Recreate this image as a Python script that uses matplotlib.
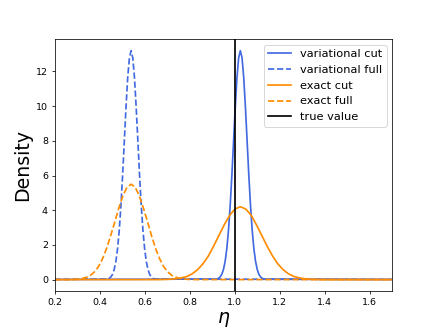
import matplotlib
matplotlib.use("Agg")
import matplotlib.pyplot as plt

# curve points (eta, density)
var_cut_x = [0.0, 0.92, 0.9275, 0.935, 0.9425, 0.95, 0.9575, 0.965, 0.9725, 0.98,
             0.9875, 0.995, 1.0025, 1.01, 1.0175, 1.025, 1.0325, 1.04, 1.0475,
             1.055, 1.0625, 1.07, 1.0775, 1.085, 1.0925, 1.1, 1.1075, 1.115,
             1.1225, 1.13, 2.0]
var_cut_y = [0.0, 0.03, 0.07, 0.15, 0.30, 0.58, 1.05, 1.79, 2.86, 4.29,
             6.04, 8.01, 9.96, 11.65, 12.79, 13.2, 12.79, 11.65, 9.96,
             8.01, 6.04, 4.29, 2.86, 1.79, 1.05, 0.58, 0.30, 0.15,
             0.07, 0.03, 0.0]

var_full_x = [0.0, 0.435, 0.4425, 0.45, 0.4575, 0.465, 0.4725, 0.48, 0.4875, 0.495,
              0.5025, 0.51, 0.5175, 0.525, 0.5325, 0.54, 0.5475, 0.555, 0.5625,
              0.57, 0.5775, 0.585, 0.5925, 0.6, 0.6075, 0.615, 0.6225, 0.63,
              0.6375, 0.645, 2.0]
var_full_y = [0.0, 0.03, 0.07, 0.15, 0.30, 0.58, 1.05, 1.79, 2.86, 4.29,
              6.04, 8.01, 9.96, 11.65, 12.79, 13.2, 12.79, 11.65, 9.96,
              8.01, 6.04, 4.29, 2.86, 1.79, 1.05, 0.58, 0.30, 0.15,
              0.07, 0.03, 0.0]

exact_cut_x = [0.0, 0.66, 0.693, 0.716, 0.74, 0.764, 0.788, 0.811, 0.835, 0.859,
               0.883, 0.906, 0.93, 0.954, 0.978, 1.001, 1.025, 1.049, 1.073,
               1.096, 1.12, 1.144, 1.168, 1.191, 1.215, 1.239, 1.263, 1.286,
               1.31, 1.334, 1.358, 1.39, 2.0]
exact_cut_y = [0.0, 0.0, 0.01, 0.02, 0.05, 0.10, 0.18, 0.33, 0.57, 0.91,
               1.36, 1.92, 2.55, 3.17, 3.71, 4.07, 4.2, 4.07, 3.71,
               3.17, 2.55, 1.92, 1.36, 0.91, 0.57, 0.33, 0.18, 0.10,
               0.05, 0.02, 0.01, 0.0, 0.0]

exact_full_x = [0.0, 0.26, 0.286, 0.304, 0.323, 0.341, 0.359, 0.377, 0.395, 0.413,
                0.431, 0.449, 0.468, 0.486, 0.504, 0.522, 0.54, 0.558, 0.576,
                0.594, 0.613, 0.631, 0.649, 0.667, 0.685, 0.703, 0.721, 0.739,
                0.758, 0.776, 0.794, 0.82, 2.0]
exact_full_y = [0.0, 0.0, 0.01, 0.03, 0.06, 0.13, 0.24, 0.44, 0.74, 1.19,
                1.79, 2.52, 3.34, 4.15, 4.85, 5.33, 5.5, 5.33, 4.85,
                4.15, 3.34, 2.52, 1.79, 1.19, 0.74, 0.44, 0.24, 0.13,
                0.06, 0.03, 0.01, 0.0, 0.0]

true_eta = 1.0

blue = "royalblue"
orange = "darkorange"
lw = 1.8

fig, ax = plt.subplots(figsize=(6.4, 4.8))
ax.plot(var_cut_x, var_cut_y, color=blue, lw=lw, label="variational cut")
ax.plot(var_full_x, var_full_y, color=blue, lw=lw, linestyle="--", label="variational full")
ax.plot(exact_cut_x, exact_cut_y, color=orange, lw=lw, label="exact cut")
ax.plot(exact_full_x, exact_full_y, color=orange, lw=lw, linestyle="--", label="exact full")
ax.axvline(true_eta, color="black", lw=lw, label="true value")

ax.set_xlim(0.2, 1.7)
ax.set_xlabel(r"$\eta$", fontsize=20)
ax.set_ylabel("Density", fontsize=20)
ax.legend(loc="upper right", fontsize=12)

plt.savefig("out.png", dpi=68.125)
